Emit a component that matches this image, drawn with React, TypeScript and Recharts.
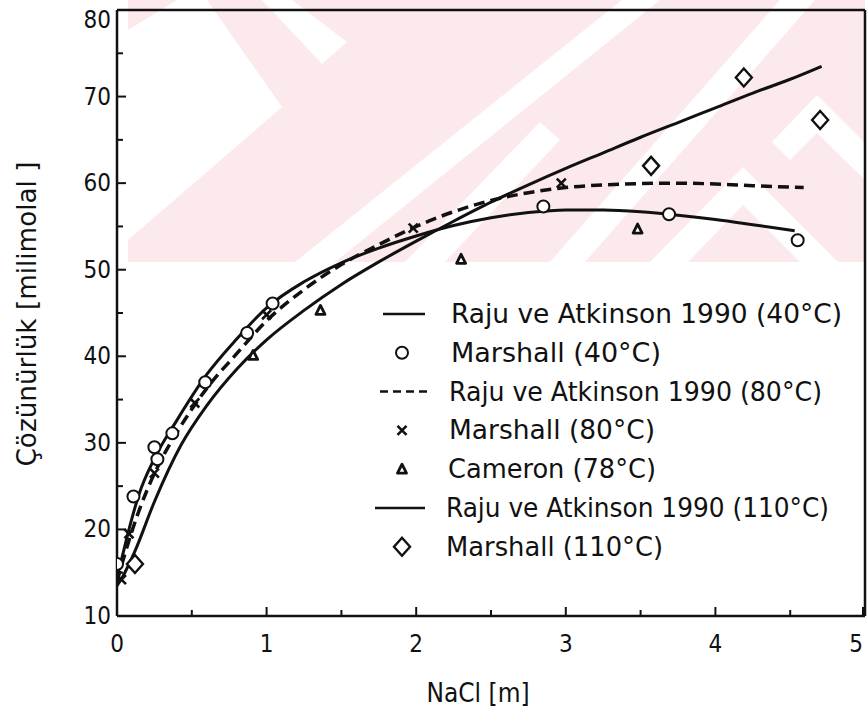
import React from 'react'
import { ComposedChart, Line, Scatter, XAxis, YAxis, ReferenceLine } from 'recharts'

// model curves (NaCl m, solubility mmol)
const raju40 = [
  [0, 14.5], [0.03, 16.5], [0.08, 20], [0.15, 24.2], [0.25, 28.2], [0.4, 32.6], [0.6, 37.9],
  [0.8, 42.0], [1.0, 45.6], [1.25, 48.6], [1.5, 50.8], [1.75, 52.5], [2.0, 53.9], [2.25, 55.1],
  [2.5, 56.0], [2.75, 56.6], [3.0, 56.9], [3.25, 56.9], [3.5, 56.7], [3.75, 56.3], [4.0, 55.8],
  [4.25, 55.2], [4.53, 54.5],
]
const raju80 = [
  [0, 14], [0.05, 17.0], [0.1, 19.8], [0.2, 24.5], [0.3, 28.2], [0.4, 31.2], [0.6, 36.3],
  [0.8, 40.3], [1.0, 44.1], [1.25, 47.7], [1.5, 50.6], [1.75, 52.9], [2.0, 55.0], [2.25, 56.7],
  [2.5, 58.0], [2.75, 58.9], [3.0, 59.5], [3.25, 59.8], [3.5, 59.95], [3.75, 60.0], [4.0, 59.9],
  [4.25, 59.7], [4.59, 59.5],
]
const raju110 = [
  [0, 13.5], [0.03, 14.3], [0.12, 17.5], [0.25, 23.2], [0.43, 29.8], [0.6, 34.3], [0.8, 38.5],
  [1.0, 41.9], [1.25, 45.3], [1.5, 48.3], [1.75, 50.9], [2.0, 53.3], [2.25, 55.6], [2.5, 57.8],
  [2.75, 59.8], [3.0, 61.7], [3.25, 63.5], [3.5, 65.3], [3.75, 67.0], [4.0, 68.7], [4.25, 70.4],
  [4.5, 72.0], [4.71, 73.5],
]

// measured points
const marshall40 = [
  [0.0, 16.0], [0.11, 23.8], [0.25, 29.5], [0.27, 28.1], [0.37, 31.1], [0.59, 37.0],
  [0.87, 42.7], [1.04, 46.1], [2.85, 57.3], [3.69, 56.4], [4.55, 53.4],
]
const marshall80 = [
  [0.03, 14.2], [0.08, 19.5], [0.25, 26.5], [0.52, 34.6], [1.0, 44.8], [1.98, 54.8], [2.97, 60.0],
]
const cameron78 = [[0.91, 40.1], [1.36, 45.3], [2.3, 51.2], [3.48, 54.7]]
const marshall110 = [[0.12, 16.0], [3.57, 62.0], [4.19, 72.2], [4.7, 67.3]]

const legendLabels = [
  'Raju ve Atkinson 1990 (40°C)',
  'Marshall (40°C)',
  'Raju ve Atkinson 1990 (80°C)',
  'Marshall (80°C)',
  'Cameron (78°C)',
  'Raju ve Atkinson 1990 (110°C)',
  'Marshall (110°C)',
]
const legendKinds = ['line', 'circle', 'dash', 'cross', 'triangle', 'line', 'diamond']
const legendWidths = [391, 210, 373, 206, 208, 383, 217]

const xTicks = [0, 0.5, 1, 1.5, 2, 2.5, 3, 3.5, 4, 4.5, 5]
const yTicks = [10, 15, 20, 25, 30, 35, 40, 45, 50, 55, 60, 65, 70, 75, 80]

const toPts = (arr: number[][]) => arr.map(([x, y]) => ({ x, y }))

const INK = '#111'
const FONT = "'DejaVu Sans Condensed', 'DejaVu Sans', sans-serif"

function Marker({ kind, cx, cy }: { kind: string; cx: number; cy: number }) {
  if (kind === 'circle')
    return <circle cx={cx} cy={cy} r={6} fill="#fff" stroke={INK} strokeWidth={2} />
  if (kind === 'cross')
    return (
      <g stroke={INK} strokeWidth={2.6}>
        <line x1={cx - 4.5} y1={cy - 4.5} x2={cx + 4.5} y2={cy + 4.5} />
        <line x1={cx - 4.5} y1={cy + 4.5} x2={cx + 4.5} y2={cy - 4.5} />
      </g>
    )
  if (kind === 'triangle')
    return (
      <path d={`M${cx},${cy - 5} L${cx + 4.5},${cy + 4} L${cx - 4.5},${cy + 4} Z`}
        fill="#fff" stroke={INK} strokeWidth={2.8} strokeLinejoin="round" />
    )
  if (kind === 'diamond')
    return (
      <path d={`M${cx},${cy - 9} L${cx + 8},${cy} L${cx},${cy + 9} L${cx - 8},${cy} Z`}
        fill="#fff" stroke={INK} strokeWidth={2.4} />
    )
  return null
}

const shapeOf = (kind: string) => (p: any) => <Marker kind={kind} cx={p.cx} cy={p.cy} />

function YTick(props: any) {
  const { x, y, payload } = props
  const major = payload.value % 10 === 0
  return (
    <g>
      <line x1={x} y1={y} x2={x + (major ? 9 : 6)} y2={y} stroke={INK} strokeWidth={2} />
      {major && (
        <text x={x - 6} y={Math.max(y, 20)} textAnchor="end" dominantBaseline="central"
          fontFamily={FONT} fontSize={24} fill={INK}>
          {payload.value}
        </text>
      )}
    </g>
  )
}

function XTick(props: any) {
  const { x, y, payload } = props
  const major = Number.isInteger(payload.value)
  return (
    <g>
      <line x1={x} y1={y} x2={x} y2={y - (major ? 9 : 6)} stroke={INK} strokeWidth={2} />
      {major && (
        <text x={payload.value === 5 ? x - 7 : x} y={y + 36} textAnchor="middle"
          fontFamily={FONT} fontSize={24} fill={INK}>
          {payload.value}
        </text>
      )}
    </g>
  )
}

// faint logo in the scan background
function Watermark() {
  return (
    <svg width={867} height={712} style={{ position: 'absolute', left: 0, top: 0 }}>
      <rect x={128} y={0} width={737} height={262} fill="#fce9eb" />
      <g fill="#fff">
        <polygon points="128,30 177,0 207,0 282,107 128,240" />
        <polygon points="262,0 292,0 347,42 322,64" />
        <polygon points="295,262 335,262 660,0 622,0" />
        <polygon points="405,262 445,262 560,140 540,122" />
        <polygon points="550,262 585,262 815,0 780,0" />
        <polygon points="743,167 838,262 800,262 743,205 688,262 650,262" />
        <polygon points="817,95 865,143 865,180 817,133 790,160 772,142" />
      </g>
    </svg>
  )
}

function Overlay() {
  const rowY = (i: number) => 314 + i * 38.8
  return (
    <svg width={867} height={712} style={{ position: 'absolute', left: 0, top: 0 }}>
      <text x={36} y={314} transform="rotate(-90 36 314)" textAnchor="middle"
        fontFamily={FONT} fontSize={26} fill={INK} textLength={305} lengthAdjust="spacingAndGlyphs">
        Çözünürlük [milimolal ]
      </text>
      <text x={478} y={702} textAnchor="middle" fontFamily={FONT} fontSize={26} fill={INK}>
        NaCl [m]
      </text>
      {legendLabels.map((label, i) => {
        const y = rowY(i)
        const kind = legendKinds[i]
        return (
          <g key={label}>
            {kind === 'line' && (
              <line x1={i === 0 ? 383 : 375} y1={y} x2={425} y2={y} stroke={INK} strokeWidth={2.5} />
            )}
            {kind === 'dash' && (
              <line x1={380} y1={y} x2={430} y2={y} stroke={INK} strokeWidth={2.5} strokeDasharray="8 5" />
            )}
            {kind !== 'line' && kind !== 'dash' && <Marker kind={kind} cx={402} cy={y} />}
            <text x={i < 2 ? 451 : i < 4 ? 449 : i < 5 ? 448 : 446} y={y + 9}
              fontFamily={FONT} fontSize={26} fill={INK}
              textLength={legendWidths[i]} lengthAdjust="spacingAndGlyphs">
              {label}
            </text>
          </g>
        )
      })}
    </svg>
  )
}

export default function App() {
  return (
    <div style={{ position: 'absolute', left: 0, top: 0, width: 867, height: 712, background: '#fff' }}>
      <Watermark />
      <div style={{ position: 'absolute', left: 0, top: 0 }}>
        <ComposedChart width={867} height={712} margin={{ top: 10, right: 2, bottom: 56, left: 57 }}>
          <XAxis type="number" dataKey="x" domain={[0, 5]} ticks={xTicks} tick={<XTick />}
            tickSize={0} tickMargin={0} height={40} tickLine={false}
            axisLine={{ stroke: INK, strokeWidth: 2.5 }} allowDataOverflow />
          <YAxis type="number" dataKey="y" domain={[10, 80]} ticks={yTicks} tick={<YTick />}
            tickSize={0} tickMargin={0} width={60} tickLine={false}
            axisLine={{ stroke: INK, strokeWidth: 2.5 }} allowDataOverflow />
          <ReferenceLine y={80} stroke={INK} strokeWidth={2.5} />
          <ReferenceLine x={5} stroke={INK} strokeWidth={2.5} />
          <Line data={toPts(raju40)} dataKey="y" type="monotone" stroke={INK} strokeWidth={3}
            dot={false} isAnimationActive={false} />
          <Line data={toPts(raju80)} dataKey="y" type="monotone" stroke={INK} strokeWidth={3.5}
            strokeDasharray="11 6" dot={false} isAnimationActive={false} />
          <Line data={toPts(raju110)} dataKey="y" type="monotone" stroke={INK} strokeWidth={3}
            dot={false} isAnimationActive={false} />
          <Scatter data={toPts(cameron78)} shape={shapeOf('triangle')} isAnimationActive={false} />
          <Scatter data={toPts(marshall80)} shape={shapeOf('cross')} isAnimationActive={false} />
          <Scatter data={toPts(marshall40)} shape={shapeOf('circle')} isAnimationActive={false} />
          <Scatter data={toPts(marshall110)} shape={shapeOf('diamond')} isAnimationActive={false} />
        </ComposedChart>
      </div>
      <Overlay />
    </div>
  )
}
